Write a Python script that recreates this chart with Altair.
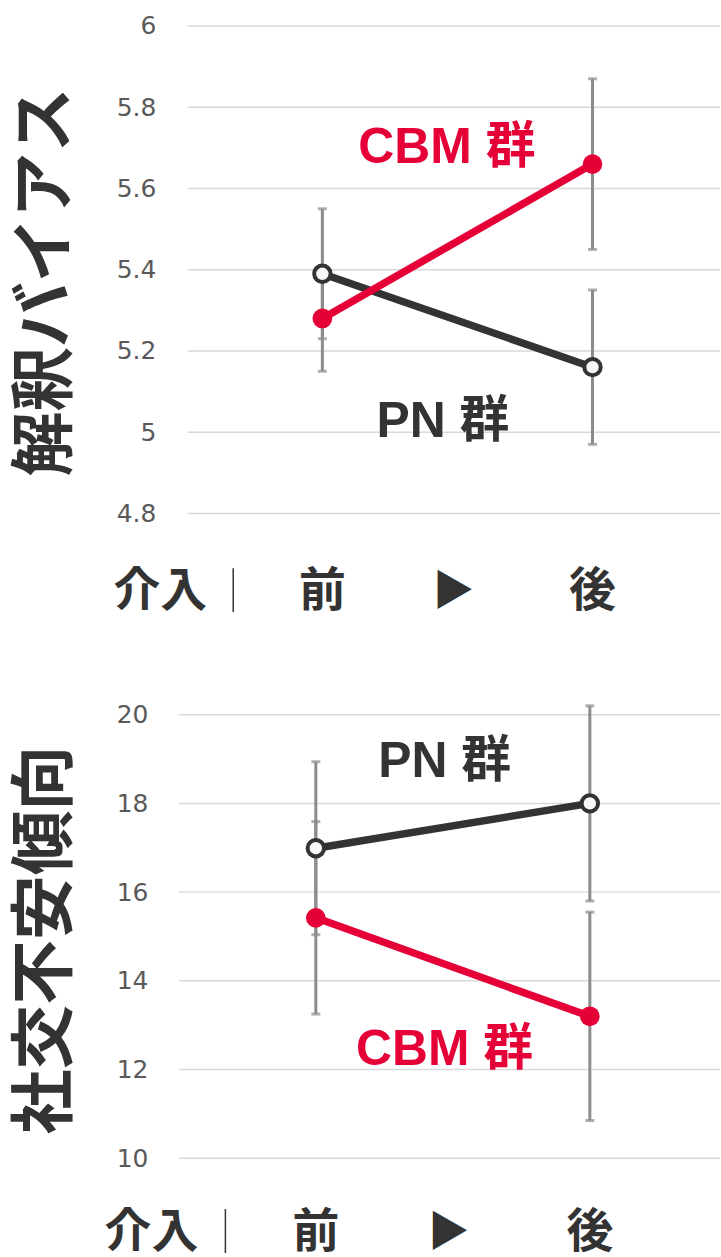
import altair as alt
import pandas as pd

# x positions of the two measurement points (before / after the intervention)
phase_pos = [1, 3]
groups = ["PN", "CBM"]

# 解釈バイアス: means and error half-widths
bias_pn = [5.39, 5.16]
bias_pn_err = [0.16, 0.19]
bias_cbm = [5.28, 5.66]
bias_cbm_err = [0.13, 0.21]
bias_ticks = [4.8, 5.0, 5.2, 5.4, 5.6, 5.8, 6.0]

# 社交不安傾向: means and error half-widths
anx_pn = [16.99, 18.0]
anx_pn_err = [1.95, 2.2]
anx_cbm = [15.42, 13.2]
anx_cbm_err = [2.17, 2.35]
anx_ticks = [10, 12, 14, 16, 18, 20]

# bottom row: 介入 | 前 ▶ 後
row_labels = ["介入", "前", "後"]
row_pos = [-0.2, 1, 3]
arrow_pos = [1.97]
sep_pos = [0.34]

RED = "#e50037"
DARK = "#333333"
GRAY = "#8c8c8c"
CJK = "Noto Sans CJK JP"
LATIN = "Liberation Sans, Noto Sans CJK JP"
PLOT_W = 543


def panel(title, pn, pn_err, cbm, cbm_err, ticks, height, x_domain, label_pad,
          label_pos, title_shift, row_y, grid_start):
    df = pd.DataFrame({
        "x": phase_pos * 2,
        "group": [groups[0]] * 2 + [groups[1]] * 2,
        "mean": pn + cbm,
        "err": pn_err + cbm_err,
    })
    df["lo"] = df["mean"] - df["err"]
    df["hi"] = df["mean"] + df["err"]

    xs = alt.X("x:Q", scale=alt.Scale(domain=x_domain, nice=False, zero=False), axis=None)
    yscale = alt.Scale(domain=[ticks[0], ticks[-1]], nice=False, zero=False)
    y_axis = alt.Axis(values=ticks, format="~g", title=title, grid=False,
                      labelPadding=label_pad, titlePadding=36.6,
                      titleY=height / 2 + title_shift)

    # horizontal gridlines at the tick values
    grid = alt.Chart(pd.DataFrame({"t": ticks})).mark_rule(
        color="#d9d9d9", strokeWidth=1.5).encode(
        y=alt.Y("t:Q", scale=yscale, axis=y_axis),
        x=alt.value(grid_start), x2=alt.value(PLOT_W))

    base = alt.Chart(df)
    bars = base.mark_rule(color=GRAY, strokeWidth=3).encode(
        x=xs, y=alt.Y("lo:Q", scale=yscale), y2="hi:Q")
    caps = base.transform_fold(["lo", "hi"], as_=["end", "v"]).mark_tick(
        color=GRAY, orient="horizontal", size=9, thickness=3).encode(
        x=xs, y=alt.Y("v:Q", scale=yscale))

    y = alt.Y("mean:Q", scale=yscale)
    pn_df = base.transform_filter(alt.datum.group == "PN")
    cbm_df = base.transform_filter(alt.datum.group == "CBM")
    pn_line = pn_df.mark_line(color=DARK, strokeWidth=7.5).encode(x=xs, y=y)
    cbm_line = cbm_df.mark_line(color=RED, strokeWidth=7.5).encode(x=xs, y=y)
    pn_pts = pn_df.mark_point(shape="circle", filled=True, fill="#f7f7f7",
                              stroke=DARK, strokeWidth=4, size=270,
                              opacity=1).encode(x=xs, y=y)
    cbm_pts = cbm_df.mark_circle(color=RED, size=390, opacity=1).encode(x=xs, y=y)

    lab_df = pd.DataFrame({
        "x": [label_pos[0][0], label_pos[1][0]],
        "y": [label_pos[0][1], label_pos[1][1]],
        "text": ["PN 群", "CBM 群"],
        "group": groups,
    })
    labels = alt.Chart(lab_df).mark_text(
        font=LATIN, fontSize=50, fontWeight="bold", baseline="middle").encode(
        x=xs, y=alt.Y("y:Q", scale=yscale), text="text:N",
        color=alt.Color("group:N", scale=alt.Scale(domain=groups, range=[DARK, RED]),
                        legend=None))

    row = alt.Chart(pd.DataFrame({"x": row_pos, "text": row_labels})).mark_text(
        font=CJK, fontSize=47, fontWeight="bold", color=DARK, baseline="middle").encode(
        x=xs, y=alt.value(height + row_y), text="text:N")
    arrow = alt.Chart(pd.DataFrame({"x": arrow_pos, "text": ["▶"]})).mark_text(
        font=CJK, fontSize=42, color=DARK, baseline="middle").encode(
        x=xs, y=alt.value(height + row_y), text="text:N")
    sep = alt.Chart(pd.DataFrame({"x": sep_pos})).mark_rule(
        color=DARK, strokeWidth=1.5).encode(
        x=xs, y=alt.value(height + row_y - 24), y2=alt.value(height + row_y + 20))

    return alt.layer(grid, bars, caps, pn_line, cbm_line, pn_pts, cbm_pts,
                     labels, row, arrow, sep).properties(width=PLOT_W, height=height)


top = panel("解釈バイアス", bias_pn, bias_pn_err, bias_cbm, bias_cbm_err, bias_ticks,
            489, [-0.063, 3.944], 23, [(1.893, 5.025), (1.922, 5.70)], 12, 79, 9)
bottom = panel("社交不安傾向", anx_pn, anx_pn_err, anx_cbm, anx_cbm_err, anx_ticks,
               445, [0, 3.95], 31, [(1.94, 18.94), (1.94, 12.43)], 3, 75, 0)

chart = alt.vconcat(top, bottom, spacing=88).properties(
    padding={"left": 13.4, "top": 12, "right": 0, "bottom": 0}
).configure_view(stroke=None).configure_axis(
    domain=False, ticks=False, labelColor="#595959", labelFontSize=25,
    labelFont="DejaVu Sans", titleFont=CJK, titleFontSize=65,
    titleFontWeight="bold", titleColor=DARK)

chart.save("out.html", embed_options={"renderer": "svg", "actions": False})
